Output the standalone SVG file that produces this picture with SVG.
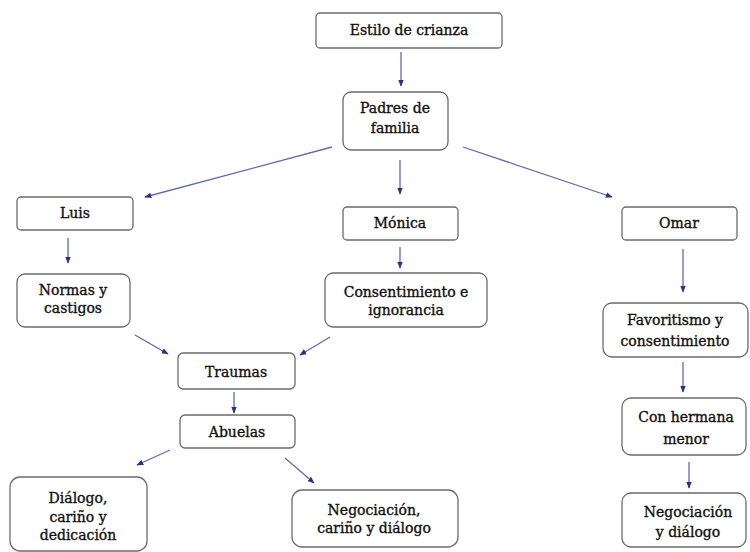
<svg xmlns="http://www.w3.org/2000/svg" width="750" height="552" viewBox="0 0 750 552">
<defs>
<marker id="ah" viewBox="0 0 10 10" refX="9" refY="5" markerWidth="7" markerHeight="7" orient="auto" markerUnits="userSpaceOnUse">
<path d="M0,1 L10,5 L0,9 z" fill="#2b2f8c"/>
</marker>
<style>
.box{fill:#fff;stroke:#6b6b6b;stroke-width:1.3}
.t{font-family:'DejaVu Serif',serif;font-size:14px;font-weight:normal;fill:#111;stroke:#111;stroke-width:0.35;text-anchor:middle}
.c{stroke:#5d6bb0;stroke-width:1.3;fill:none;marker-end:url(#ah)}
</style>
</defs>
<rect width="750" height="552" fill="#fff"/>
<g id="connectors">
<line class="c" x1="401" y1="52" x2="401" y2="86"/>
<line class="c" x1="332" y1="147" x2="145" y2="197"/>
<line class="c" x1="400" y1="160" x2="400" y2="194"/>
<line class="c" x1="463" y1="147" x2="612" y2="197"/>
<line class="c" x1="68" y1="238" x2="68" y2="263"/>
<line class="c" x1="400" y1="247" x2="400" y2="268"/>
<line class="c" x1="683" y1="249" x2="683" y2="292"/>
<line class="c" x1="135" y1="335" x2="168" y2="354"/>
<line class="c" x1="330" y1="337" x2="300" y2="355"/>
<line class="c" x1="234" y1="392" x2="234" y2="413"/>
<line class="c" x1="683" y1="362" x2="683" y2="392"/>
<line class="c" x1="689" y1="462" x2="689" y2="488"/>
<line class="c" x1="170" y1="450" x2="137" y2="465"/>
<line class="c" x1="285" y1="458" x2="314" y2="483"/>
</g>
<g id="estilo"><rect class="box" x="316" y="13" width="186" height="35" rx="4"/><text class="t" x="409" y="35">Estilo de crianza</text></g>
<g id="padres"><rect class="box" x="343" y="92" width="105" height="58" rx="8"/><text class="t" x="395" y="113">Padres de</text><text class="t" x="395" y="133">familia</text></g>
<g id="luis"><rect class="box" x="17" y="197" width="116" height="33" rx="4"/><text class="t" x="75" y="218">Luis</text></g>
<g id="normas"><rect class="box" x="17" y="274" width="113" height="53" rx="8"/><text class="t" x="73" y="295">Normas y</text><text class="t" x="73" y="313">castigos</text></g>
<g id="monica"><rect class="box" x="343" y="207" width="115" height="33" rx="4"/><text class="t" x="400" y="228">Mónica</text></g>
<g id="consentimiento"><rect class="box" x="325" y="273" width="162" height="54" rx="8"/><text class="t" x="406" y="297">Consentimiento e</text><text class="t" x="406" y="315">ignorancia</text></g>
<g id="omar"><rect class="box" x="622" y="207" width="115" height="33" rx="4"/><text class="t" x="679" y="228">Omar</text></g>
<g id="favoritismo"><rect class="box" x="603" y="303" width="145" height="54" rx="9"/><text class="t" x="675" y="325">Favoritismo y</text><text class="t" x="675" y="346">consentimiento</text></g>
<g id="hermana"><rect class="box" x="622" y="398" width="124" height="57" rx="9"/><text class="t" x="686" y="422">Con hermana</text><text class="t" x="686" y="444">menor</text></g>
<g id="negociacion2"><rect class="box" x="622" y="493" width="124" height="54" rx="9"/><text class="t" x="688" y="517">Negociación</text><text class="t" x="688" y="537">y diálogo</text></g>
<g id="traumas"><rect class="box" x="178" y="353" width="117" height="36" rx="5"/><text class="t" x="236" y="377">Traumas</text></g>
<g id="abuelas"><rect class="box" x="180" y="415" width="115" height="33" rx="5"/><text class="t" x="237" y="437">Abuelas</text></g>
<g id="dialogo"><rect class="box" x="10" y="477" width="137" height="74" rx="10"/><text class="t" x="78" y="503">Diálogo,</text><text class="t" x="78" y="522">cariño y</text><text class="t" x="78" y="540">dedicación</text></g>
<g id="negociacion1"><rect class="box" x="292" y="490" width="166" height="57" rx="10"/><text class="t" x="374" y="515">Negociación,</text><text class="t" x="374" y="533">cariño y diálogo</text></g>
</svg>
